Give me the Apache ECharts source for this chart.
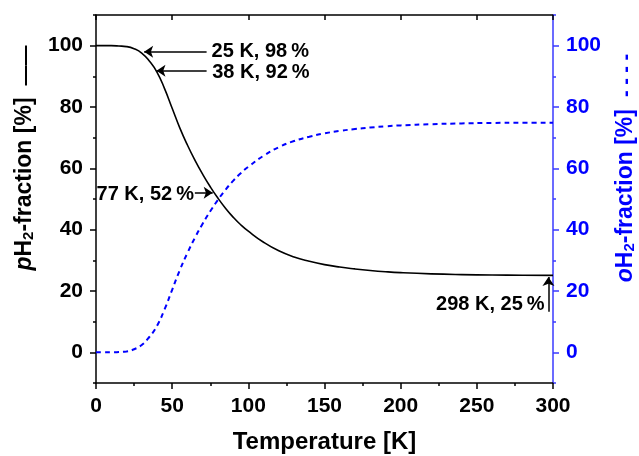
<!DOCTYPE html>
<html><head><meta charset="utf-8">
<script src="https://cdn.jsdelivr.net/npm/echarts@6/dist/echarts.min.js"></script>
<style>html,body{margin:0;padding:0;background:#fff}#c{width:639px;height:456px}</style>
</head><body><div id="c"></div>
<script>
// ---- data ----
const temperature = [0,5,10,15,20,25,30,35,40,45,50,55,60,65,70,75,80,85,90,95,100,110,120,130,140,150,160,170,180,190,200,220,240,260,280,300];
const pH2Fraction = [100,100,100,99.9,99.7,99.0,97.6,95.0,91.4,86.0,79.6,73.2,67.6,62.6,58.1,54.0,50.3,47.0,44.1,41.6,39.5,35.9,33.1,31.1,29.7,28.6,27.8,27.2,26.7,26.3,26.0,25.6,25.35,25.2,25.15,25.1];
const oH2Fraction = [0,0,0,0.1,0.3,1.0,2.4,5.0,8.6,14.0,20.4,26.8,32.4,37.4,41.9,46.0,49.7,53.0,55.9,58.4,60.5,64.1,66.9,68.9,70.3,71.4,72.2,72.8,73.3,73.7,74.0,74.4,74.65,74.8,74.85,74.9];
const yMajorTicks = [0,20,40,60,80,100];
const yMinorTicks = [-10,10,30,50,70,90,110];
const annotationTexts = ['25 K, 98\u2009%', '38 K, 92\u2009%', '77 K, 52\u2009%', '298 K, 25\u2009%'];
// arrow start [T, %] and arrow tip [T, %]
const arrowStarts = [[72.6,98.0],[72.6,91.8],[64.9,52.0],[297,13.2]];
const arrowTips   = [[31.6,98.0],[39.7,91.8],[76.6,52.0],[297,24.6]];
// text anchor [T, %] and which side of the anchor the text sits
const textAnchors = [[75.9,98.1],[76.3,91.3],[64.3,51.4],[294.5,15.7]];
const textSides = ['right','right','left','left'];

// ---- chart ----
const FF = '"Liberation Sans", Arial, sans-serif';
const BLUE = '#0000ff';
const BLUE_LINE = '#3a3aff';
const chart = echarts.init(document.getElementById('c'), null, {renderer:'canvas'});

function yAxisCfg(pos, color, ticks, len, labels, showLine) {
  return {
    type:'value', position:pos, min:-10, max:110, gridIndex:0, offset:0,
    axisLine:{show:showLine, onZero:false, lineStyle:{color:color, width:1.5}},
    axisTick:{show:true, inside:false, length:len, customValues:ticks, lineStyle:{color:color, width:1.5}},
    axisLabel:{show:labels, customValues:yMajorTicks, margin:13, fontSize:21, fontWeight:'bold', fontFamily:FF, color:(color==='#000'?'#000':BLUE)},
    splitLine:{show:false}
  };
}

function titleRich(color) {
  return {
    i:{fontStyle:'italic', fontWeight:'bold', fontSize:23, fontFamily:FF, fill:color},
    s:{fontSize:15, fontWeight:'bold', fontFamily:FF, fill:color, padding:[8,0,0,0]},
    d:{fontSize:20, fontWeight:'bold', fontFamily:FF, fill:color, padding:[0,0,0,12]}
  };
}

const option = {
  animation:false,
  backgroundColor:'#fff',
  grid:{left:96, right:86, top:15, bottom:73, containLabel:false, outerBoundsMode:'none'},
  xAxis:[
    {type:'value', position:'bottom', min:0, max:300, interval:50,
     axisLine:{onZero:false, lineStyle:{color:'#000', width:1.5}},
     axisTick:{inside:false, length:6, lineStyle:{color:'#000', width:1.5}},
     minorTick:{show:true, splitNumber:2, length:3, lineStyle:{color:'#000', width:1.5}},
     axisLabel:{margin:13, fontSize:21, fontWeight:'bold', fontFamily:FF, color:'#000'},
     splitLine:{show:false}, minorSplitLine:{show:false},
     name:'Temperature [K]', nameLocation:'middle', nameGap:47,
     nameTextStyle:{fontSize:24, fontWeight:'bold', fontFamily:FF, color:'#000'}},
    {type:'value', position:'top', min:0, max:300, interval:50,
     axisLine:{onZero:false, lineStyle:{color:'#000', width:1.5}},
     axisTick:{inside:true, length:5, lineStyle:{color:'#000', width:1.5}},
     axisLabel:{show:false}, splitLine:{show:false}}
  ],
  yAxis:[
    yAxisCfg('left', '#000', yMajorTicks, 6, true, true),
    yAxisCfg('right', BLUE_LINE, yMajorTicks, 6, true, true),
    yAxisCfg('left', '#000', yMinorTicks, 3, false, false),
    yAxisCfg('right', BLUE_LINE, yMinorTicks, 3, false, false)
  ],
  series:[
    {type:'line', name:'pH2', xAxisIndex:0, yAxisIndex:0,
     data: temperature.map((t,i)=>[t,pH2Fraction[i]]),
     showSymbol:false, smooth:0.5,
     lineStyle:{color:'#000', width:1.6}, z:3,
     markLine:{silent:true, symbol:['none','arrow'], symbolSize:9,
       lineStyle:{color:'#000', width:1.5, type:'solid'}, itemStyle:{color:'#000'}, label:{show:false},
       data: arrowStarts.map((s,i)=>[{coord:s},{coord:arrowTips[i]}])}},
    {type:'line', name:'oH2', xAxisIndex:0, yAxisIndex:1,
     data: temperature.map((t,i)=>[t,oH2Fraction[i]]),
     showSymbol:false, smooth:0.5,
     lineStyle:{color:BLUE, width:2, type:[5,4]}, z:2},
    {type:'scatter', xAxisIndex:0, yAxisIndex:0, symbolSize:0, silent:true, z:5,
     itemStyle:{opacity:1},
     data: textAnchors.map((p,i)=>({value:p,
       label:{show:true, position:textSides[i], distance:0, formatter:annotationTexts[i],
         fontSize:20, fontWeight:'bold', fontFamily:FF, color:'#000', opacity:1}}))}
  ],
  graphic:[
    {type:'text', x:25, y:158, rotation:Math.PI/2, silent:true,
     style:{text:'{i|p}H{s|2}-fraction [%]{d|——}', align:'center', verticalAlign:'middle',
       font:'bold 23px ' + FF, fill:'#000', rich:titleRich('#000')}},
    {type:'text', x:626, y:168, rotation:Math.PI/2, silent:true,
     style:{text:'{i|o}H{s|2}-fraction [%]{d|- - - -}', align:'center', verticalAlign:'middle',
       font:'bold 23px ' + FF, fill:BLUE, rich:titleRich(BLUE)}}
  ]
};
chart.setOption(option);
</script></body></html>
